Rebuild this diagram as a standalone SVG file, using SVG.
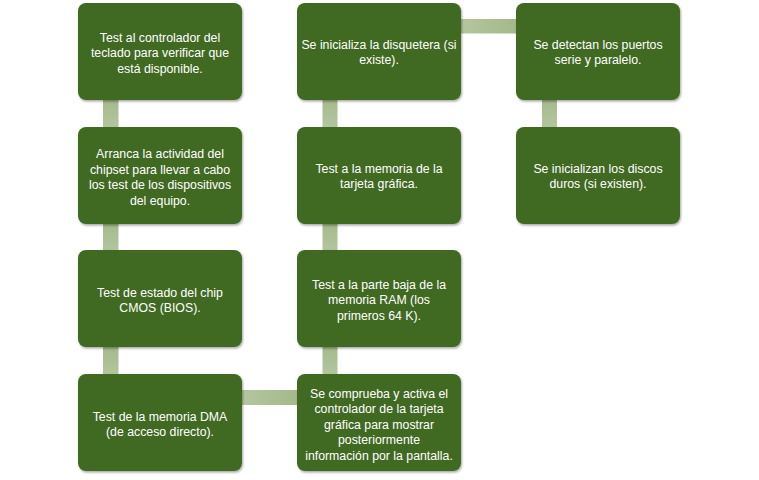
<svg xmlns="http://www.w3.org/2000/svg" width="759" height="480" viewBox="0 0 759 480">
<style>
.box{fill:#3F6922;filter:url(#sh)}
.t{font-family:"Liberation Sans",Arial,sans-serif;font-size:12.3px;fill:#ffffff;text-anchor:middle}
.cv{fill:url(#gv)}
.ch{fill:url(#gh)}
</style>
<defs>
<filter id="sh" x="-10%" y="-10%" width="125%" height="125%">
<feDropShadow dx="1" dy="1.5" stdDeviation="1.2" flood-color="#000" flood-opacity="0.35"/>
</filter>
<linearGradient id="gv" x1="0" y1="0" x2="0" y2="1">
<stop offset="0" stop-color="#A3B98A"/>
<stop offset="1" stop-color="#B4C6A0"/>
</linearGradient>
<linearGradient id="gh" x1="0" y1="0" x2="1" y2="0">
<stop offset="0" stop-color="#B4C6A0"/>
<stop offset="1" stop-color="#A3B98A"/>
</linearGradient>
</defs>
<rect width="759" height="480" fill="#ffffff"/>
<g id="connectors">
<rect class="cv" x="103" y="98" width="15.5" height="31"/>
<rect class="cv" x="103" y="222" width="15.5" height="30"/>
<rect class="cv" x="103" y="345" width="15.5" height="31"/>
<rect class="ch" x="240" y="390" width="59" height="15"/>
<rect class="cv" x="322.5" y="345" width="15" height="31"/>
<rect class="cv" x="322.5" y="222" width="15" height="30"/>
<rect class="cv" x="322.5" y="98" width="15" height="31"/>
<rect class="ch" x="459" y="19" width="59" height="14.5"/>
<rect class="cv" x="542" y="98" width="15" height="31"/>
</g>
<g id="n1">
<rect class="box" x="78" y="3" width="164" height="97" rx="8"/>
<text class="t" x="160" y="41.5">Test al controlador del</text>
<text class="t" x="160" y="57">teclado para verificar que</text>
<text class="t" x="160" y="72.5">está disponible.</text>
</g>
<g id="n2">
<rect class="box" x="78" y="127" width="164" height="97" rx="8"/>
<text class="t" x="160" y="158">Arranca la actividad del</text>
<text class="t" x="160" y="173.5">chipset para llevar a cabo</text>
<text class="t" x="160" y="189">los test de los dispositivos</text>
<text class="t" x="160" y="204.5">del equipo.</text>
</g>
<g id="n3">
<rect class="box" x="78" y="250" width="164" height="97" rx="8"/>
<text class="t" x="160" y="296.5">Test de estado del chip</text>
<text class="t" x="160" y="312">CMOS (BIOS).</text>
</g>
<g id="n4">
<rect class="box" x="78" y="374" width="164" height="97" rx="8"/>
<text class="t" x="160" y="420.5">Test de la memoria DMA</text>
<text class="t" x="160" y="436">(de acceso directo).</text>
</g>
<g id="n5">
<rect class="box" x="297" y="374" width="164" height="97" rx="8"/>
<text class="t" x="379" y="397.5">Se comprueba y activa el</text>
<text class="t" x="379" y="413">controlador de la tarjeta</text>
<text class="t" x="379" y="428.5">gráfica para mostrar</text>
<text class="t" x="379" y="444">posteriormente</text>
<text class="t" x="379" y="459.5">información por la pantalla.</text>
</g>
<g id="n6">
<rect class="box" x="297" y="250" width="164" height="97" rx="8"/>
<text class="t" x="379" y="288.5">Test a la parte baja de la</text>
<text class="t" x="379" y="304">memoria RAM (los</text>
<text class="t" x="379" y="319.5">primeros 64 K).</text>
</g>
<g id="n7">
<rect class="box" x="297" y="127" width="164" height="97" rx="8"/>
<text class="t" x="379" y="172.5">Test a la memoria de la</text>
<text class="t" x="379" y="188">tarjeta gráfica.</text>
</g>
<g id="n8">
<rect class="box" x="297" y="3" width="164" height="97" rx="8"/>
<text class="t" x="379" y="48.5">Se inicializa la disquetera (si</text>
<text class="t" x="379" y="64">existe).</text>
</g>
<g id="n9">
<rect class="box" x="516" y="3" width="164" height="97" rx="8"/>
<text class="t" x="598" y="48.5">Se detectan los puertos</text>
<text class="t" x="598" y="64">serie y paralelo.</text>
</g>
<g id="n10">
<rect class="box" x="516" y="127" width="164" height="97" rx="8"/>
<text class="t" x="598" y="172.5">Se inicializan los discos</text>
<text class="t" x="598" y="188">duros (si existen).</text>
</g>
</svg>
